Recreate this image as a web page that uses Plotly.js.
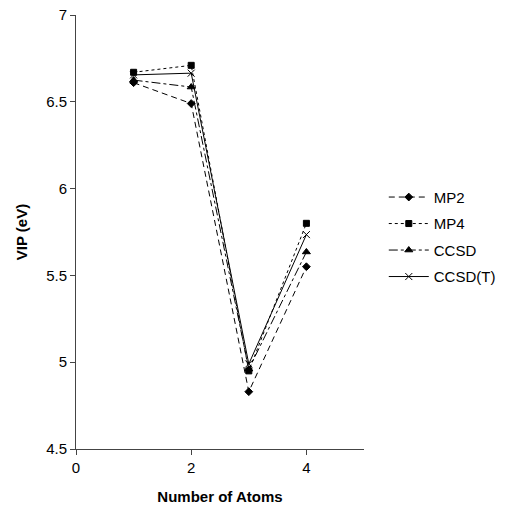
<!DOCTYPE html>
<html>
<head>
<meta charset="utf-8">
<script src="https://cdn.plot.ly/plotly-3.0.1.min.js"></script>
<style>html,body{margin:0;padding:0;background:#fff;}#chart{width:512px;height:510px;}</style>
</head>
<body>
<div id="chart"></div>
<script>
const atoms = [1, 2, 3, 4];
const mp2 = [6.61, 6.49, 4.83, 5.55];
const mp4 = [6.67, 6.71, 4.95, 5.80];
const ccsd = [6.625, 6.585, 4.96, 5.635];
const ccsdt = [6.655, 6.665, 4.99, 5.735];
const seriesNames = ['MP2', 'MP4', 'CCSD', 'CCSD(T)'];

const styles = [
  {dash: '6px,4px', symbol: 'diamond', size: 6},
  {dash: 'dot', symbol: 'square', size: 6},
  {dash: 'dashdot', symbol: 'triangle-up', size: 7},
  {dash: 'solid', symbol: 'x-thin-open', size: 7}
];
const values = [mp2, mp4, ccsd, ccsdt];

const traces = values.map((v, i) => ({
  x: atoms, y: v, name: seriesNames[i], type: 'scatter', mode: 'lines+markers',
  legendgroup: 'g' + i,
  line: {color: '#000', width: 1, dash: styles[i].dash},
  marker: {color: '#000', symbol: styles[i].symbol, size: styles[i].size, line: {color: '#000', width: 1}}
}));

const fam = 'Liberation Sans, Arial, sans-serif';
Plotly.newPlot('chart', traces, {
  width: 512, height: 510,
  margin: {l: 76, r: 147, t: 15, b: 61},
  paper_bgcolor: '#fff', plot_bgcolor: '#fff',
  font: {family: fam, size: 15, color: '#000'},
  showlegend: true,
  legend: {x: 1.065, y: 0.618, xanchor: 'left', yanchor: 'top', font: {family: fam, size: 15, color: '#000'},
           traceorder: 'grouped', tracegroupgap: 4, itemwidth: 40},
  xaxis: {
    range: [0, 5], tickvals: [0, 2, 4], showgrid: false, zeroline: false,
    showline: true, linecolor: '#444', linewidth: 1, ticks: 'outside', ticklen: 5, tickcolor: '#444',
    title: {text: '<b>Number of Atoms</b>', font: {family: fam, size: 15}, standoff: 16}
  },
  yaxis: {
    range: [4.5, 7], tickvals: [4.5, 5, 5.5, 6, 6.5, 7], ticktext: ['4.5', '5', '5.5', '6', '6.5', '7'],
    showgrid: false, zeroline: false,
    showline: true, linecolor: '#444', linewidth: 1, ticks: 'outside', ticklen: 5, tickcolor: '#444',
    title: {text: '<b>VIP (eV)</b>', font: {family: fam, size: 15}, standoff: 14}
  }
}, {displayModeBar: false, staticPlot: true});
</script>
</body>
</html>
